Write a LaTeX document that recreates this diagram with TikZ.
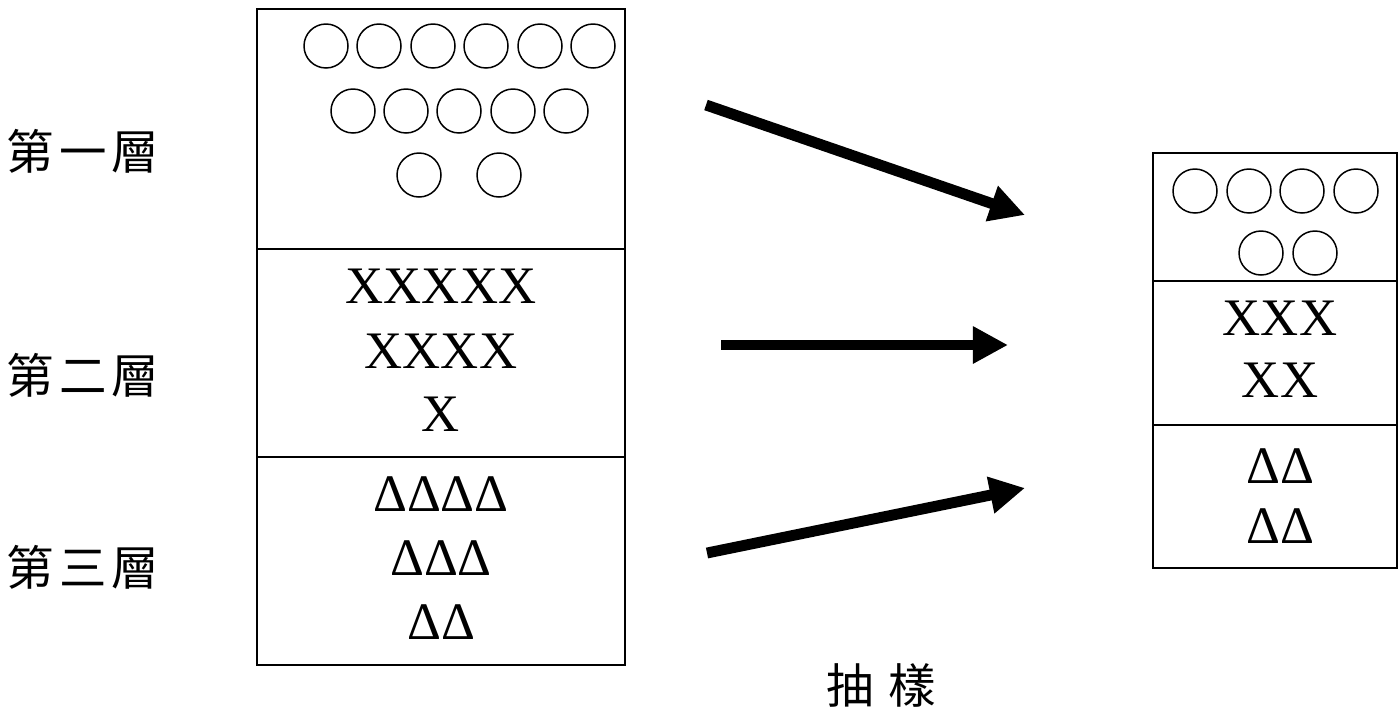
\documentclass[tikz,border=0pt]{standalone}
\usepackage{fontspec}
\setmainfont{Liberation Serif}
\newfontfamily\cjk{Noto Sans CJK TC}
\usetikzlibrary{arrows.meta}

\begin{document}
\begin{tikzpicture}[x=0.02cm, y=-0.02cm,
    layer/.style={rectangle, draw=black, line width=1.4pt, inner sep=0pt, outer sep=0pt},
    ball/.style={circle, draw=black, line width=0.85pt, minimum size=0.88cm, inner sep=0pt},
    sym/.style={inner sep=0pt, font=\fontsize{30pt}{30pt}\selectfont},
    lbl/.style={inner sep=0pt, font=\cjk\fontsize{27pt}{27pt}\selectfont},
    flow/.style={-{Triangle[length=20pt, width=20pt]}, line width=6.2pt}]
    \useasboundingbox (0, 0) rectangle (1398, 714);

    % population
    \node[layer, minimum width=7.36cm, minimum height=4.8cm] (p1) at (441, 129) {};
    \node[layer, minimum width=7.36cm, minimum height=4.16cm] (p2) at (441, 353) {};
    \node[layer, minimum width=7.36cm, minimum height=4.16cm] (p3) at (441, 561) {};

    \node[ball] (p1a) at (326, 46) {};
    \node[ball] (p1b) at (379, 46) {};
    \node[ball] (p1c) at (433, 46) {};
    \node[ball] (p1d) at (486, 46) {};
    \node[ball] (p1e) at (540, 46) {};
    \node[ball] (p1f) at (593, 46) {};
    \node[ball] (p1g) at (353, 111) {};
    \node[ball] (p1h) at (406, 111) {};
    \node[ball] (p1i) at (459, 111) {};
    \node[ball] (p1j) at (513, 111) {};
    \node[ball] (p1k) at (566, 111) {};
    \node[ball] (p1l) at (419, 175) {};
    \node[ball] (p1m) at (499, 175) {};

    \node[sym] (p2a) at (441, 286) {XXXXX};
    \node[sym] (p2b) at (441, 351) {XXXX};
    \node[sym] (p2c) at (441, 414) {X};

    \node[sym] (p3a) at (441, 494) {ΔΔΔΔ};
    \node[sym] (p3b) at (441, 558) {ΔΔΔ};
    \node[sym] (p3c) at (441, 622) {ΔΔ};

    % sample
    \node[layer, minimum width=4.88cm, minimum height=2.56cm] (s1) at (1275, 217) {};
    \node[layer, minimum width=4.88cm, minimum height=2.88cm] (s2) at (1275, 353) {};
    \node[layer, minimum width=4.88cm, minimum height=2.86cm] (s3) at (1275, 496.5) {};

    \node[ball] (s1a) at (1195, 191) {};
    \node[ball] (s1b) at (1249, 191) {};
    \node[ball] (s1c) at (1302, 191) {};
    \node[ball] (s1d) at (1356, 191) {};
    \node[ball] (s1e) at (1261, 253) {};
    \node[ball] (s1f) at (1315, 253) {};

    \node[sym] (s2a) at (1280, 318) {XXX};
    \node[sym] (s2b) at (1280, 380) {XX};

    \node[sym] (s3a) at (1280, 466) {ΔΔ};
    \node[sym] (s3b) at (1280, 526) {ΔΔ};

    % labels
    \node[lbl] (l1) at (83, 151) {第\kern3pt 一\kern3pt 層};
    \node[lbl] (l2) at (83, 375) {第\kern3pt 二\kern3pt 層};
    \node[lbl] (l3) at (83, 567) {第\kern3pt 三\kern3pt 層};
    \node[lbl] (draw) at (881, 685) {抽\kern8pt 樣};

    % arrows
    \coordinate (a1) at (706, 105);
    \coordinate (b1) at (1025, 215);
    \coordinate (a2) at (721, 345);
    \coordinate (b2) at (1008, 345);
    \coordinate (a3) at (707, 553);
    \coordinate (b3) at (1025, 488);

    \draw[flow] (a1) to (b1);
    \draw[flow] (a2) to (b2);
    \draw[flow] (a3) to (b3);
\end{tikzpicture}
\end{document}
